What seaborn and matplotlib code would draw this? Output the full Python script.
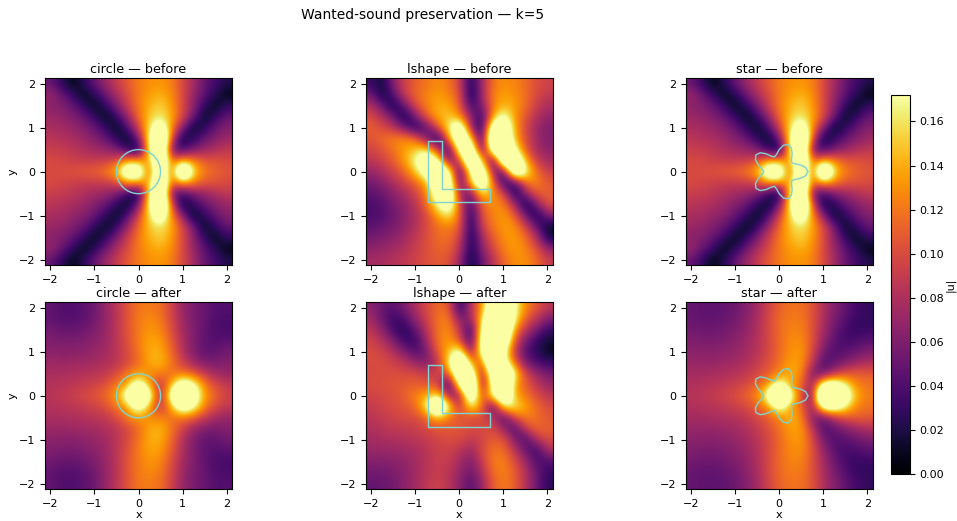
import numpy as np
import matplotlib
matplotlib.use("Agg")
import matplotlib.pyplot as plt
import seaborn as sns

# |u| in thousandths, rows y=2..-2, columns x=-2..2 in steps of 0.25
circle_before = [
    [50, 28, 5, 25, 50, 72, 90, 108, 122, 130, 132, 125, 100, 75, 50, 35, 22],
    [70, 52, 30, 5, 25, 52, 78, 100, 122, 135, 142, 130, 100, 70, 45, 25, 5],
    [65, 60, 50, 30, 5, 28, 58, 92, 122, 142, 155, 135, 100, 65, 30, 5, 30],
    [72, 68, 60, 50, 30, 5, 30, 70, 115, 150, 162, 140, 100, 55, 5, 30, 50],
    [78, 75, 70, 62, 50, 30, 5, 40, 95, 158, 215, 130, 65, 5, 28, 50, 62],
    [85, 82, 78, 72, 62, 50, 28, 5, 55, 168, 290, 105, 8, 28, 50, 62, 72],
    [92, 90, 86, 80, 75, 70, 60, 30, 5, 165, 280, 50, 35, 58, 70, 80, 88],
    [100, 97, 92, 90, 90, 92, 100, 135, 130, 135, 270, 110, 135, 125, 108, 105, 100],
    [98, 100, 105, 108, 112, 122, 145, 235, 240, 85, 270, 85, 310, 155, 122, 112, 105],
    [100, 97, 92, 90, 90, 92, 100, 135, 130, 135, 270, 110, 135, 125, 108, 105, 100],
    [92, 90, 86, 80, 75, 70, 60, 30, 5, 165, 280, 50, 35, 58, 70, 80, 88],
    [85, 82, 78, 72, 62, 50, 28, 5, 55, 168, 290, 105, 8, 28, 50, 62, 72],
    [78, 75, 70, 62, 50, 30, 5, 40, 95, 158, 215, 130, 65, 5, 28, 50, 62],
    [72, 68, 60, 50, 30, 5, 30, 70, 115, 150, 162, 140, 100, 55, 5, 30, 50],
    [65, 60, 50, 30, 5, 28, 58, 92, 122, 142, 155, 135, 100, 65, 30, 5, 30],
    [70, 52, 30, 5, 25, 52, 78, 100, 122, 135, 142, 130, 100, 70, 45, 25, 5],
    [50, 28, 5, 25, 50, 72, 90, 108, 122, 130, 132, 125, 100, 75, 50, 35, 22],
]
star_before = circle_before  # the two fields look the same in the reference

lshape_before = [
    [30, 15, 65, 95, 110, 120, 128, 120, 95, 15, 75, 120, 130, 125, 115, 100, 95],
    [55, 10, 45, 90, 115, 125, 135, 125, 105, 8, 75, 125, 135, 130, 115, 98, 88],
    [80, 50, 10, 55, 100, 125, 140, 140, 110, 30, 60, 125, 145, 135, 115, 90, 78],
    [100, 80, 55, 8, 60, 110, 140, 150, 130, 65, 25, 140, 185, 130, 105, 80, 68],
    [110, 100, 85, 55, 18, 45, 105, 165, 230, 70, 15, 225, 230, 135, 95, 70, 60],
    [105, 115, 125, 128, 115, 60, 8, 130, 250, 160, 12, 290, 240, 140, 100, 72, 60],
    [95, 105, 120, 135, 150, 160, 90, 15, 210, 250, 15, 230, 290, 170, 105, 75, 65],
    [85, 95, 110, 135, 175, 230, 185, 50, 90, 290, 150, 15, 270, 250, 135, 90, 75],
    [70, 80, 95, 115, 150, 205, 260, 190, 15, 185, 240, 60, 40, 270, 170, 115, 90],
    [55, 65, 80, 95, 115, 140, 240, 230, 30, 155, 240, 115, 20, 35, 125, 125, 105],
    [45, 52, 65, 78, 95, 125, 205, 240, 70, 50, 160, 130, 100, 10, 70, 110, 110],
    [38, 45, 58, 68, 85, 115, 175, 215, 100, 30, 115, 130, 125, 75, 5, 65, 105],
    [38, 42, 52, 65, 80, 100, 135, 165, 110, 15, 105, 125, 135, 110, 50, 12, 65],
    [45, 50, 58, 68, 82, 100, 118, 125, 110, 12, 95, 120, 135, 130, 95, 45, 8],
    [55, 60, 65, 75, 88, 102, 115, 118, 95, 12, 75, 110, 130, 135, 115, 80, 15],
    [65, 70, 75, 82, 92, 102, 112, 112, 85, 15, 65, 100, 125, 135, 125, 100, 65],
    [75, 78, 82, 88, 95, 102, 108, 105, 70, 10, 50, 85, 115, 130, 130, 115, 90],
]

circle_after = [
    [48, 42, 40, 45, 52, 70, 85, 105, 120, 122, 118, 95, 70, 58, 50, 42, 42],
    [48, 42, 42, 46, 55, 68, 85, 105, 122, 128, 122, 98, 72, 58, 50, 40, 38],
    [55, 50, 50, 52, 60, 70, 85, 105, 122, 132, 128, 102, 76, 60, 48, 40, 36],
    [60, 58, 58, 60, 65, 72, 85, 103, 122, 138, 135, 108, 80, 60, 46, 42, 45],
    [65, 64, 64, 66, 70, 75, 85, 100, 120, 140, 142, 115, 82, 60, 48, 48, 55],
    [72, 72, 72, 74, 76, 80, 86, 98, 115, 140, 145, 122, 95, 72, 60, 58, 62],
    [78, 78, 80, 82, 85, 88, 100, 122, 135, 125, 125, 115, 120, 110, 90, 75, 70],
    [82, 84, 86, 90, 95, 102, 122, 135, 200, 135, 80, 140, 210, 180, 125, 100, 88],
    [85, 88, 92, 98, 105, 115, 135, 190, 330, 190, 70, 190, 330, 210, 135, 112, 95],
    [82, 84, 86, 90, 95, 102, 122, 135, 200, 135, 80, 140, 210, 180, 125, 100, 88],
    [78, 78, 80, 82, 85, 88, 100, 122, 135, 125, 125, 115, 120, 110, 90, 75, 70],
    [72, 72, 72, 74, 76, 80, 86, 98, 115, 140, 145, 122, 95, 72, 60, 58, 62],
    [65, 64, 64, 66, 70, 75, 85, 100, 120, 140, 142, 115, 82, 60, 48, 48, 55],
    [60, 58, 58, 60, 65, 72, 85, 103, 122, 138, 135, 108, 80, 60, 46, 42, 45],
    [55, 50, 50, 52, 60, 70, 85, 105, 122, 132, 128, 102, 76, 60, 48, 40, 36],
    [48, 42, 42, 46, 55, 68, 85, 105, 122, 128, 122, 98, 72, 58, 50, 40, 38],
    [48, 42, 40, 45, 52, 70, 85, 105, 120, 122, 118, 95, 70, 58, 50, 42, 42],
]

lshape_after = [
    [65, 50, 45, 60, 80, 100, 115, 110, 20, 85, 130, 230, 270, 170, 125, 105, 85],
    [75, 50, 30, 40, 70, 95, 120, 125, 55, 75, 150, 270, 300, 160, 110, 85, 60],
    [85, 65, 35, 22, 50, 85, 120, 130, 90, 18, 180, 300, 270, 125, 85, 55, 30],
    [95, 80, 60, 30, 30, 75, 120, 135, 105, 25, 195, 310, 230, 100, 55, 28, 15],
    [100, 95, 80, 60, 40, 55, 110, 145, 190, 50, 190, 310, 180, 85, 40, 25, 8],
    [100, 100, 95, 85, 70, 60, 85, 160, 290, 130, 100, 300, 190, 110, 55, 40, 30],
    [98, 100, 100, 100, 100, 90, 95, 105, 260, 230, 50, 230, 290, 160, 95, 70, 55],
    [100, 102, 105, 108, 110, 105, 100, 15, 190, 300, 40, 200, 280, 130, 110, 85, 70],
    [95, 98, 102, 110, 125, 140, 165, 70, 60, 250, 90, 175, 260, 135, 120, 100, 85],
    [90, 95, 100, 105, 115, 165, 290, 165, 80, 170, 120, 30, 170, 165, 135, 115, 100],
    [85, 90, 95, 98, 100, 115, 145, 120, 110, 100, 100, 85, 35, 105, 125, 115, 105],
    [80, 85, 88, 90, 92, 98, 105, 105, 105, 100, 100, 100, 70, 35, 95, 115, 110],
    [75, 78, 80, 82, 85, 90, 98, 100, 100, 88, 95, 110, 105, 60, 35, 85, 100],
    [70, 72, 72, 74, 78, 85, 92, 95, 85, 70, 100, 120, 115, 85, 50, 30, 80],
    [62, 62, 65, 68, 75, 85, 92, 90, 75, 60, 90, 122, 125, 100, 70, 40, 40],
    [55, 55, 58, 65, 75, 85, 92, 85, 70, 50, 80, 118, 125, 110, 80, 50, 30],
    [48, 50, 55, 65, 75, 88, 95, 85, 65, 42, 70, 110, 122, 110, 80, 50, 25],
]

star_after = [
    [50, 46, 46, 48, 52, 62, 75, 95, 112, 118, 118, 105, 80, 62, 48, 35, 28],
    [50, 48, 48, 50, 55, 65, 78, 98, 115, 122, 122, 105, 78, 58, 42, 30, 28],
    [55, 52, 52, 55, 60, 68, 80, 98, 115, 125, 125, 105, 75, 52, 36, 30, 32],
    [60, 58, 58, 60, 64, 72, 82, 98, 115, 128, 130, 105, 68, 44, 36, 38, 45],
    [65, 64, 64, 66, 70, 76, 85, 98, 115, 130, 135, 100, 55, 42, 44, 52, 60],
    [70, 70, 70, 72, 75, 80, 90, 102, 118, 135, 135, 88, 40, 48, 62, 72, 80],
    [76, 76, 78, 80, 83, 88, 98, 110, 125, 145, 128, 60, 50, 85, 105, 110, 108],
    [80, 82, 84, 88, 92, 100, 112, 130, 195, 130, 120, 60, 195, 205, 165, 125, 118],
    [84, 86, 90, 95, 102, 112, 128, 190, 330, 190, 95, 50, 340, 340, 210, 140, 122],
    [80, 82, 84, 88, 92, 100, 112, 130, 195, 130, 120, 60, 195, 205, 165, 125, 118],
    [76, 76, 78, 80, 83, 88, 98, 110, 125, 145, 128, 60, 50, 85, 105, 110, 108],
    [70, 70, 70, 72, 75, 80, 90, 102, 118, 135, 135, 88, 40, 48, 62, 72, 80],
    [65, 64, 64, 66, 70, 76, 85, 98, 115, 130, 135, 100, 55, 42, 44, 52, 60],
    [60, 58, 58, 60, 64, 72, 82, 98, 115, 128, 130, 105, 68, 44, 36, 38, 45],
    [55, 52, 52, 55, 60, 68, 80, 98, 115, 125, 125, 105, 75, 52, 36, 30, 32],
    [50, 48, 48, 50, 55, 65, 78, 98, 115, 122, 122, 105, 78, 58, 42, 30, 28],
    [50, 46, 46, 48, 52, 62, 75, 95, 112, 118, 118, 105, 80, 62, 48, 35, 28],
]

# obstacle outlines
lshape_x = [-0.7, -0.4, -0.4, 0.7, 0.7, -0.7, -0.7]
lshape_y = [0.7, 0.7, -0.4, -0.4, -0.7, -0.7, 0.7]
star_x_top = [0.65, 0.599, 0.476, 0.351, 0.283, 0.279, 0.294, 0.275, 0.201, 0.095, 0.0,
              -0.062, -0.108, -0.179, -0.294, -0.429, -0.526, -0.540, -0.476, -0.389, -0.35]
star_y_top = [0.0, 0.095, 0.155, 0.179, 0.206, 0.279, 0.405, 0.540, 0.618, 0.599, 0.5,
              0.389, 0.333, 0.351, 0.405, 0.429, 0.382, 0.275, 0.155, 0.062, 0.0]
circle_radius = 0.5

shapes = ["circle", "lshape", "star"]
stages = ["before", "after"]
fields = {
    ("circle", "before"): circle_before,
    ("lshape", "before"): lshape_before,
    ("star", "before"): star_before,
    ("circle", "after"): circle_after,
    ("lshape", "after"): lshape_after,
    ("star", "after"): star_after,
}
tick_values = [-2, -1, 0, 1, 2]
cbar_ticks = [0.0, 0.02, 0.04, 0.06, 0.08, 0.10, 0.12, 0.14, 0.16]

LIMIT = 2.12
VMAX = 0.172
W, H = 957, 521
LINE_COLOR = "#7fd3d0"

sns.set_theme(style="ticks", rc={
    "axes.edgecolor": "black", "axes.linewidth": 0.8, "axes.labelcolor": "black",
    "xtick.color": "black", "ytick.color": "black", "text.color": "black",
    "xtick.major.size": 3.5, "ytick.major.size": 3.5,
    "xtick.major.width": 0.8, "ytick.major.width": 0.8,
    "xtick.labelsize": 8, "ytick.labelsize": 8, "axes.labelsize": 8,
    "axes.titlesize": 9.2,
})
plt.rcParams["font.family"] = ["DejaVu Sans"]
cmap = sns.color_palette("inferno", as_cmap=True)


def px_axes(fig, left, top, right, bottom):
    return fig.add_axes([left / W, 1 - bottom / H, (right - left) / W, (bottom - top) / H])


def outline(name):
    if name == "circle":
        return None
    if name == "lshape":
        return lshape_x, lshape_y
    xs = star_x_top + star_x_top[-2::-1]
    ys = star_y_top + [-v for v in star_y_top[-2::-1]]
    return xs, ys


def draw_panel(ax, shape, stage, cbar_ax=None):
    values = np.array(fields[(shape, stage)]) / 1000
    n = values.shape[0]
    sns.heatmap(values, ax=ax, cmap=cmap, vmin=0, vmax=VMAX, xticklabels=False, yticklabels=False,
                cbar=cbar_ax is not None, cbar_ax=cbar_ax, cbar_kws={"ticks": cbar_ticks} if cbar_ax else None)
    # smooth the coarse cells, the reference field is continuous
    ax.imshow(values, cmap=cmap, vmin=0, vmax=VMAX, extent=(0, n, n, 0), aspect="auto",
              interpolation="bicubic", interpolation_stage="data", zorder=2)

    to_col = lambda v: (np.asarray(v) + LIMIT) / (2 * LIMIT) * n
    to_row = lambda v: (LIMIT - np.asarray(v)) / (2 * LIMIT) * n
    pts = outline(shape)
    if pts is None:
        circle = plt.Circle((to_col(0), to_row(0)), circle_radius / (2 * LIMIT) * n,
                            fill=False, ec=LINE_COLOR, lw=1.0, zorder=3)
        ax.add_patch(circle)
    else:
        ax.plot(to_col(pts[0]), to_row(pts[1]), color=LINE_COLOR, lw=1.0, zorder=3)

    ax.set_xticks(to_col(tick_values), [str(t).replace("-", "\u2212") for t in tick_values])
    ax.set_yticks(to_row(tick_values), [str(t).replace("-", "\u2212") for t in tick_values], rotation=0)
    ax.set_title(f"{shape} \u2014 {stage}", pad=4)
    for side in ax.spines.values():
        side.set_visible(True)


fig = plt.figure(figsize=(W / 100, H / 100), dpi=100)
lefts = [45, 365.7, 685.7]
rows = {"before": (78.3, 265), "after": (302.3, 489.3)}
cax = px_axes(fig, 890.7, 95, 910.3, 474)

for i, shape in enumerate(shapes):
    for stage in stages:
        top, bottom = rows[stage]
        ax = px_axes(fig, lefts[i], top, lefts[i] + 187, bottom)
        use_cbar = shape == "star" and stage == "after"
        draw_panel(ax, shape, stage, cax if use_cbar else None)
        if i == 0:
            ax.set_ylabel("y", labelpad=1)
        if stage == "after":
            ax.set_xlabel("x", labelpad=0.5)

cbar = ax.collections[0].colorbar
cbar.outline.set_visible(True)
cbar.outline.set_linewidth(0.8)
cbar.outline.set_edgecolor("black")
cbar.set_label("|u|", labelpad=1)
cax.tick_params(labelsize=8, length=3.5, width=0.8, pad=3)
cax.set_yticklabels([f"{t:.2f}" for t in cbar_ticks])

fig.text(422.5 / W, 1 - 15.5 / H, "Wanted-sound preservation \u2014 k=5", ha="center", va="center", fontsize=10)
fig.savefig("out.png", dpi=100)
